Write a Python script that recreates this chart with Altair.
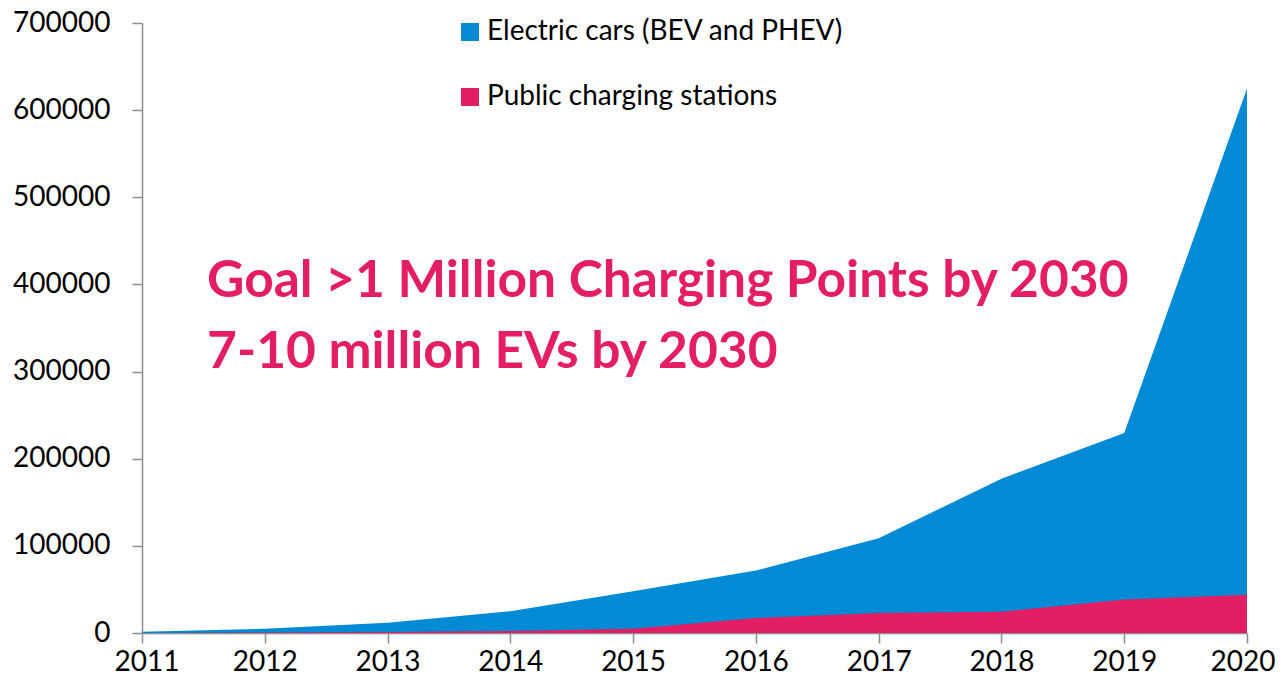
import altair as alt
import pandas as pd

# ---- data ----
years = [2011, 2012, 2013, 2014, 2015, 2016, 2017, 2018, 2019, 2020]
electric_cars = [1500, 4800, 11700, 25000, 48000, 71700, 108800, 177000, 229400, 624700]
charging_stations = [0, 600, 1200, 2300, 4900, 17200, 23000, 24500, 38300, 44000]
series_names = ["Electric cars (BEV and PHEV)", "Public charging stations"]
series_colors = ["#028BD4", "#E41E64"]
y_ticks = [0, 100000, 200000, 300000, 400000, 500000, 600000, 700000]
annotation_lines = ["Goal >1 Million Charging Points by 2030", "7-10 million EVs by 2030"]
annotation_x = [2011.53, 2011.53]
annotation_y = [385500, 304000]

rows = []
for y, v in zip(years, electric_cars):
    rows.append({"year": y, "value": v, "series": series_names[0]})
for y, v in zip(years, charging_stations):
    rows.append({"year": y, "value": v, "series": series_names[1]})
df = pd.DataFrame(rows)
ann = pd.DataFrame({"x": annotation_x, "y": annotation_y, "text": annotation_lines})

x_enc = alt.X(
    "year:Q",
    scale=alt.Scale(domain=[years[0], years[-1]], nice=False, zero=False),
    axis=alt.Axis(values=years, format="d", title=None, tickSize=10, labelPadding=5,
                  labelFlush=True, labelFlushOffset=28, labelOverlap=False),
)
y_enc = alt.Y(
    "value:Q",
    scale=alt.Scale(domain=[0, 700000], nice=False),
    axis=alt.Axis(values=y_ticks, format="d", title=None, tickSize=10, labelPadding=22,
                  labelFlush=False, labelOverlap=False),
)
color_enc = alt.Color(
    "series:N",
    scale=alt.Scale(domain=series_names, range=series_colors),
    legend=alt.Legend(
        title=None,
        orient="none",
        legendX=314,
        legendY=-5,
        symbolType="square",
        symbolSize=324,
        symbolStrokeWidth=0,
        symbolOpacity=1,
        labelFont="Lato",
        labelFontSize=28,
        labelColor="#000000",
        labelOffset=3,
        labelLimit=0,
        rowPadding=37,
        padding=0,
    ),
)

base = alt.Chart(df)
cars = base.transform_filter(alt.datum.series == series_names[0]).mark_area(opacity=1).encode(
    x=x_enc, y=y_enc, color=color_enc
)
stations = base.transform_filter(alt.datum.series == series_names[1]).mark_area(opacity=1).encode(
    x=x_enc, y=y_enc, color=color_enc
)
text = alt.Chart(ann).mark_text(
    align="left", baseline="alphabetic", font="Lato", fontWeight="bold", fontSize=51.5, color="#E41E64"
).encode(x="x:Q", y="y:Q", text="text:N")

chart = (
    alt.layer(cars, stations, text)
    .properties(
        width=1105,
        height=610,
        padding={"left": 134, "top": 15, "right": 28, "bottom": 45},
        autosize=alt.AutoSizeParams(type="none"),
    )
    .configure_view(stroke=None)
    .configure_axis(
        grid=False,
        domainColor="#8C8C8C",
        tickColor="#8C8C8C",
        domainWidth=1.5,
        tickWidth=1.5,
        labelFont="Lato",
        labelFontSize=28,
        labelColor="#000000",
    )
)

chart.save("out.html", embed_options={"renderer": "svg", "actions": False})
